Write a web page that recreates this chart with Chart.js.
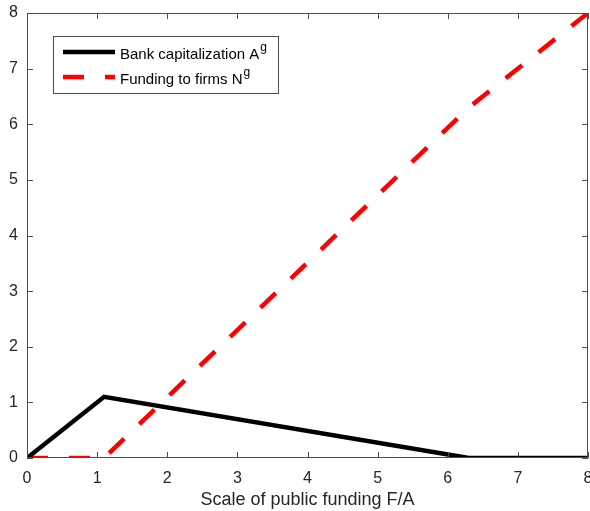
<!DOCTYPE html>
<html>
<head>
<meta charset="utf-8">
<script src="https://cdn.jsdelivr.net/npm/chart.js@4.4.0/dist/chart.umd.min.js"></script>
<style>
  body { margin: 0; background: #fff; }
  #wrap { width: 590px; height: 511px; }
</style>
</head>
<body>
<div id="wrap"><canvas id="grafico"></canvas></div>
<script>
// valores
var escala = [0, 1.1, 6.3, 8]
var capitalizacao = [0, 1.1, 0, 0]
var financiamento = [0, 0, 6.3, 8]
var ticksX = [0, 1, 2, 3, 4, 5, 6, 7, 8]
var ticksY = [0, 1, 2, 3, 4, 5, 6, 7, 8]
var legendas = ["Bank capitalization A", "Funding to firms N"]
var sobrescritos = ["g", "g"]
var tituloX = "Scale of public funding F/A"

var corEixo = "#4d4d4d"
var corTexto = "#262626"
var fonte = "'Liberation Sans', Arial, sans-serif"

const pontos = (ys) => escala.map((x, i) => ({ x: x, y: ys[i] }))

// caixa em volta e ticks para dentro (estilo matlab)
const caixaPlugin = {
  id: "caixa",
  afterDatasetsDraw(chart) {
    const ctx = chart.ctx
    const a = chart.chartArea
    const sx = chart.scales.x
    const sy = chart.scales.y
    ctx.save()
    ctx.strokeStyle = corEixo
    ctx.lineWidth = 1
    ctx.strokeRect(a.left + 0.5, a.top + 0.5, a.right - a.left - 1, a.bottom - a.top - 1)
    ctx.beginPath()
    ticksX.forEach(v => {
      const px = Math.round(sx.getPixelForValue(v)) + 0.5
      ctx.moveTo(px, a.bottom); ctx.lineTo(px, a.bottom - 6)
      ctx.moveTo(px, a.top); ctx.lineTo(px, a.top + 6)
    })
    ticksY.forEach(v => {
      const py = Math.round(sy.getPixelForValue(v)) + 0.5
      ctx.moveTo(a.left, py); ctx.lineTo(a.left + 6, py)
      ctx.moveTo(a.right, py); ctx.lineTo(a.right - 6, py)
    })
    ctx.stroke()
    ctx.restore()
  },
  afterDraw(chart) {
    // legenda com caixa e sobrescrito
    const ctx = chart.ctx
    const a = chart.chartArea
    const bx = a.left + 26, by = a.top + 23, bw = 225, bh = 57
    ctx.save()
    ctx.fillStyle = "#fff"
    ctx.fillRect(bx, by, bw, bh)
    ctx.strokeStyle = corEixo
    ctx.lineWidth = 1
    ctx.strokeRect(bx + 0.5, by + 0.5, bw, bh)
    chart.data.datasets.forEach((ds, i) => {
      const ly = by + 16 + i * 25
      ctx.beginPath()
      ctx.strokeStyle = ds.borderColor
      ctx.lineWidth = ds.borderWidth
      ctx.lineCap = "butt"
      ctx.setLineDash(ds.borderDash || [])
      ctx.moveTo(bx + 10, ly)
      ctx.lineTo(bx + 62, ly)
      ctx.stroke()
      ctx.setLineDash([])
      ctx.fillStyle = "#000"
      ctx.font = "15px " + fonte
      ctx.textBaseline = "middle"
      ctx.textAlign = "left"
      ctx.fillText(legendas[i], bx + 67, ly + 3)
      const w = ctx.measureText(legendas[i]).width
      ctx.font = "12px " + fonte
      ctx.fillText(sobrescritos[i], bx + 68 + w, ly - 4)
    })
    ctx.restore()
  }
}

new Chart(document.getElementById("grafico"), {
  type: "line",
  data: {
    datasets: [{
      label: legendas[0],
      data: pontos(capitalizacao),
      borderColor: "#000000",
      borderWidth: 4.5,
      pointRadius: 0,
      tension: 0
    }, {
      label: legendas[1],
      data: pontos(financiamento),
      borderColor: "#ff0000",
      borderWidth: 4.5,
      borderDash: [21, 21],
      borderCapStyle: "butt",
      pointRadius: 0,
      tension: 0
    }]
  },
  options: {
    responsive: true,
    maintainAspectRatio: false,
    animation: false,
    layout: { padding: { top: 13, right: 2, left: 0, bottom: 0 } },
    plugins: {
      legend: { display: false },
      tooltip: { enabled: false }
    },
    scales: {
      x: {
        type: "linear",
        min: 0,
        max: 8,
        afterBuildTicks: (s) => { s.ticks = ticksX.map(v => ({ value: v })) },
        afterFit: (s) => { s.height = 53; s.paddingLeft = 0; s.paddingRight = 0 },
        grid: { display: false, drawTicks: false },
        border: { display: false },
        ticks: {
          padding: 11,
          color: corTexto,
          font: { family: fonte, size: 16 },
          maxRotation: 0
        },
        title: {
          display: true,
          text: tituloX,
          color: corTexto,
          padding: { top: 1, bottom: 0 },
          font: { family: fonte, size: 18 }
        }
      },
      y: {
        type: "linear",
        min: 0,
        max: 8,
        afterBuildTicks: (s) => { s.ticks = ticksY.map(v => ({ value: v })) },
        afterFit: (s) => { s.width = 27; s.paddingTop = 0; s.paddingBottom = 0 },
        grid: { display: false, drawTicks: false },
        border: { display: false },
        ticks: {
          padding: 9,
          color: corTexto,
          font: { family: fonte, size: 16 }
        }
      }
    }
  },
  plugins: [caixaPlugin]
})
</script>
</body>
</html>
